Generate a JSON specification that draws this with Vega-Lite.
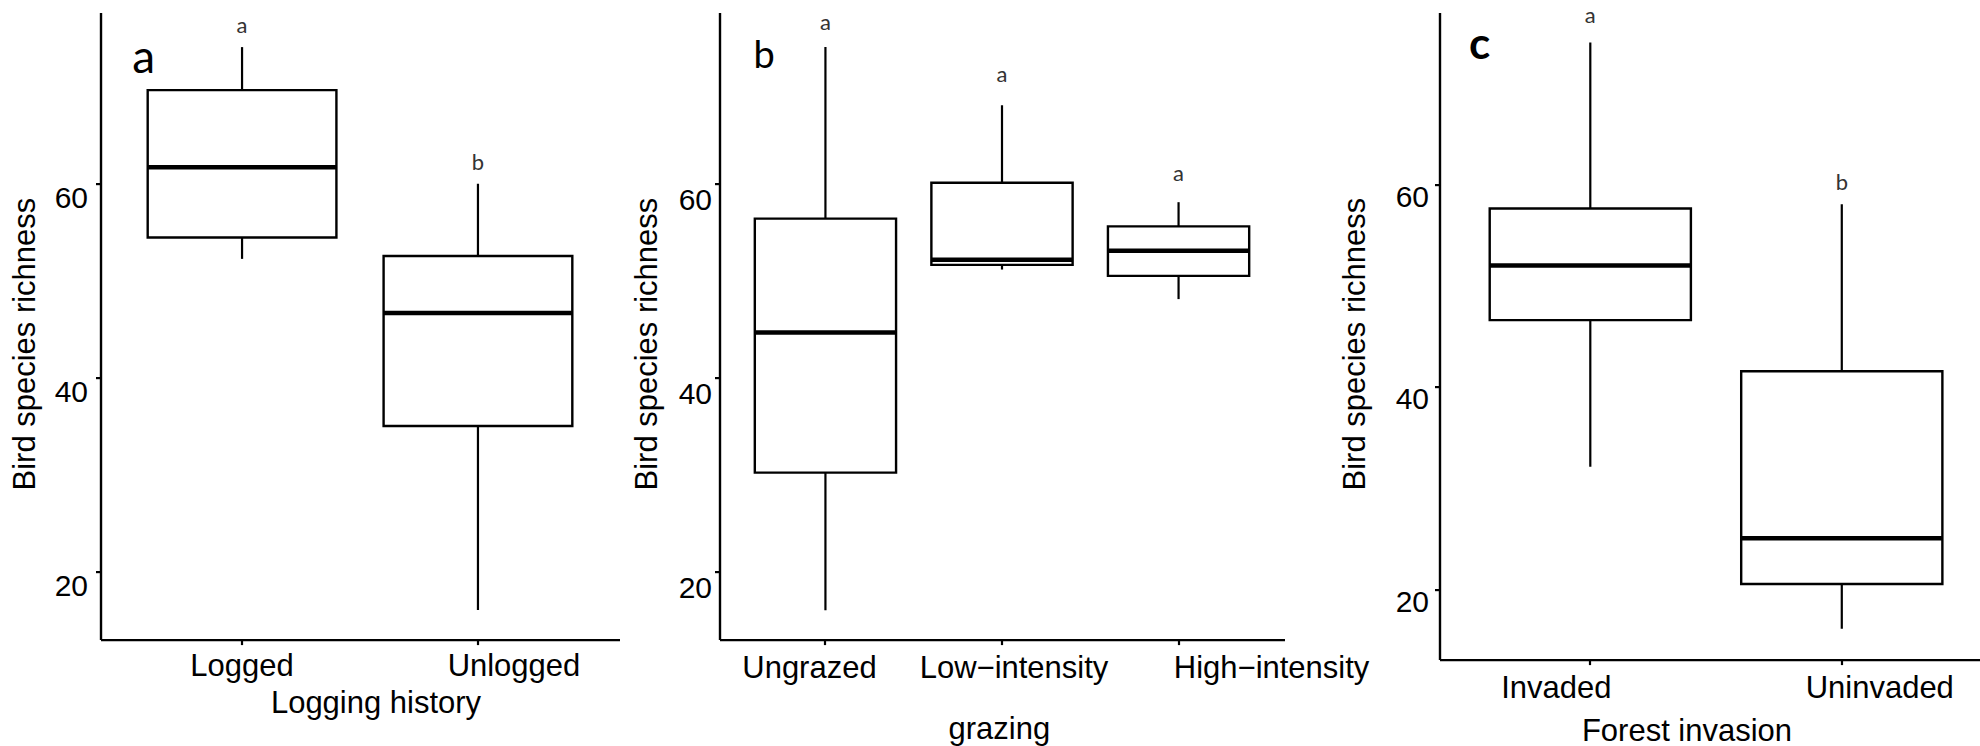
{
  "$schema": "https://vega.github.io/schema/vega-lite/v6.json",
  "autosize": {"type": "pad"},
  "padding": {"left": 9.5, "top": 4.6, "right": 0, "bottom": 0},
  "background": "white",
  "bounds": "flush",
  "spacing": 100,
  "datasets": {
    "logging": [
      {"group": "Logged", "lower": 52.25, "q1": 54.46, "median": 61.7, "q3": 69.66, "upper": 74.1, "sig": "a", "sig_y": 76.3},
      {"group": "Unlogged", "lower": 16.03, "q1": 35.0, "median": 46.67, "q3": 52.55, "upper": 60.0, "sig": "b", "sig_y": 62.1}
    ],
    "grazing": [
      {"group": "Ungrazed", "lower": 16.0, "q1": 30.2, "median": 44.66, "q3": 56.4, "upper": 74.1, "sig": "a", "sig_y": 76.55},
      {"group": "Low\u2212intensity", "lower": 51.15, "q1": 51.63, "median": 52.15, "q3": 60.1, "upper": 68.1, "sig": "a", "sig_y": 71.2},
      {"group": "High\u2212intensity", "lower": 48.1, "q1": 50.5, "median": 53.1, "q3": 55.6, "upper": 58.1, "sig": "a", "sig_y": 61.0}
    ],
    "invasion": [
      {"group": "Invaded", "lower": 32.1, "q1": 46.6, "median": 52.0, "q3": 57.65, "upper": 74.07, "sig": "a", "sig_y": 76.66},
      {"group": "Uninvaded", "lower": 16.07, "q1": 20.5, "median": 25.04, "q3": 41.55, "upper": 58.07, "sig": "b", "sig_y": 60.2}
    ]
  },
  "hconcat": [
    {
      "width": 519,
      "height": 627,
      "data": {"name": "logging"},
      "encoding": {
        "x": {
          "field": "group", "type": "nominal",
          "scale": {"domain": ["Logged", "Unlogged"], "paddingInner": 0.2, "paddingOuter": 0.2, "round": false},
          "axis": {
            "title": "Logging history", "labelAngle": 0, "labelBaseline": "alphabetic", "labelPadding": 31, "labelLimit": 0,
            "labelOffset": {"condition": {"test": "datum.value === 'Unlogged'", "value": 36}, "value": 0},
            "titleX": 275, "titleY": 73, "titleBaseline": "alphabetic", "titleAlign": "center"
          }
        }
      },
      "layer": [
        {
          "mark": {"type": "rule", "color": "black", "strokeWidth": 2.2},
          "encoding": {
            "y": {"field": "lower", "type": "quantitative", "scale": {"domain": [12.97, 77.66], "nice": false, "zero": false},
              "axis": {"title": "Bird species richness", "values": [20, 40, 60], "labelOffset": 15, "labelPadding": 8, "labelBaseline": "middle", "titleX": -75, "titleY": 331, "titleBaseline": "middle", "titleAngle": 270}},
            "y2": {"field": "upper"}
          }
        },
        {
          "mark": {"type": "bar", "fill": "white", "stroke": "black", "strokeWidth": 2.4},
          "encoding": {
            "y": {"field": "q1", "type": "quantitative", "scale": {"domain": [12.97, 77.66], "nice": false, "zero": false},
              "axis": {"title": "Bird species richness", "values": [20, 40, 60], "labelOffset": 15, "labelPadding": 8, "labelBaseline": "middle", "titleX": -75, "titleY": 331, "titleBaseline": "middle", "titleAngle": 270}},
            "y2": {"field": "q3"}
          }
        },
        {
          "mark": {"type": "tick", "color": "black", "opacity": 1, "thickness": 4.5, "size": 188.7, "orient": "horizontal"},
          "encoding": {
            "y": {"field": "median", "type": "quantitative", "scale": {"domain": [12.97, 77.66], "nice": false, "zero": false},
              "axis": {"title": "Bird species richness", "values": [20, 40, 60], "labelOffset": 15, "labelPadding": 8, "labelBaseline": "middle", "titleX": -75, "titleY": 331, "titleBaseline": "middle", "titleAngle": 270}}
          }
        },
        {
          "mark": {"type": "text", "font": "Lato", "fontSize": 22, "color": "#333333", "baseline": "middle"},
          "encoding": {
            "y": {"field": "sig_y", "type": "quantitative", "scale": {"domain": [12.97, 77.66], "nice": false, "zero": false},
              "axis": {"title": "Bird species richness", "values": [20, 40, 60], "labelOffset": 15, "labelPadding": 8, "labelBaseline": "middle", "titleX": -75, "titleY": 331, "titleBaseline": "middle", "titleAngle": 270}},
            "text": {"field": "sig"}
          }
        },
        {
          "data": {"values": [{"group": "Logged", "panel": "a", "py": 71.42}]},
          "mark": {"type": "text", "font": "Lato", "fontSize": 46, "color": "black", "baseline": "alphabetic", "align": "center", "dx": -98.5},
          "encoding": {
            "y": {"field": "py", "type": "quantitative", "scale": {"domain": [12.97, 77.66], "nice": false, "zero": false},
              "axis": {"title": "Bird species richness", "values": [20, 40, 60], "labelOffset": 15, "labelPadding": 8, "labelBaseline": "middle", "titleX": -75, "titleY": 331, "titleBaseline": "middle", "titleAngle": 270}},
            "text": {"field": "panel"}
          }
        }
      ]
    },
    {
      "width": 565,
      "height": 627,
      "data": {"name": "grazing"},
      "encoding": {
        "x": {
          "field": "group", "type": "nominal",
          "scale": {"domain": ["Ungrazed", "Low\u2212intensity", "High\u2212intensity"], "paddingInner": 0.2, "paddingOuter": 0.2, "round": false},
          "axis": {
            "title": "grazing", "labelAngle": 0, "labelBaseline": "alphabetic", "labelPadding": 33, "labelLimit": 0,
            "labelOffset": {"condition": [{"test": "datum.value === 'Ungrazed'", "value": -16}, {"test": "datum.value === 'Low\u2212intensity'", "value": 12}], "value": 93},
            "titleX": 279.3, "titleY": 99.3, "titleBaseline": "alphabetic", "titleAlign": "center"
          }
        }
      },
      "layer": [
        {
          "mark": {"type": "rule", "color": "black", "strokeWidth": 2.2},
          "encoding": {
            "y": {"field": "lower", "type": "quantitative", "scale": {"domain": [12.97, 77.66], "nice": false, "zero": false},
              "axis": {"title": "Bird species richness", "values": [20, 40, 60], "labelOffset": 17, "labelPadding": 3, "labelBaseline": "middle", "titleX": -72.4, "titleY": 331, "titleBaseline": "middle", "titleAngle": 270}},
            "y2": {"field": "upper"}
          }
        },
        {
          "mark": {"type": "bar", "fill": "white", "stroke": "black", "strokeWidth": 2.4},
          "encoding": {
            "y": {"field": "q1", "type": "quantitative", "scale": {"domain": [12.97, 77.66], "nice": false, "zero": false},
              "axis": {"title": "Bird species richness", "values": [20, 40, 60], "labelOffset": 17, "labelPadding": 3, "labelBaseline": "middle", "titleX": -72.4, "titleY": 331, "titleBaseline": "middle", "titleAngle": 270}},
            "y2": {"field": "q3"}
          }
        },
        {
          "mark": {"type": "tick", "color": "black", "opacity": 1, "thickness": 4.5, "size": 141.25, "orient": "horizontal"},
          "encoding": {
            "y": {"field": "median", "type": "quantitative", "scale": {"domain": [12.97, 77.66], "nice": false, "zero": false},
              "axis": {"title": "Bird species richness", "values": [20, 40, 60], "labelOffset": 17, "labelPadding": 3, "labelBaseline": "middle", "titleX": -72.4, "titleY": 331, "titleBaseline": "middle", "titleAngle": 270}}
          }
        },
        {
          "mark": {"type": "text", "font": "Lato", "fontSize": 22, "color": "#333333", "baseline": "middle"},
          "encoding": {
            "y": {"field": "sig_y", "type": "quantitative", "scale": {"domain": [12.97, 77.66], "nice": false, "zero": false},
              "axis": {"title": "Bird species richness", "values": [20, 40, 60], "labelOffset": 17, "labelPadding": 3, "labelBaseline": "middle", "titleX": -72.4, "titleY": 331, "titleBaseline": "middle", "titleAngle": 270}},
            "text": {"field": "sig"}
          }
        },
        {
          "data": {"values": [{"group": "Ungrazed", "panel": "b", "py": 71.9}]},
          "mark": {"type": "text", "font": "Lato", "fontSize": 38, "color": "black", "baseline": "alphabetic", "align": "center", "dx": -61.3},
          "encoding": {
            "y": {"field": "py", "type": "quantitative", "scale": {"domain": [12.97, 77.66], "nice": false, "zero": false},
              "axis": {"title": "Bird species richness", "values": [20, 40, 60], "labelOffset": 17, "labelPadding": 3, "labelBaseline": "middle", "titleX": -72.4, "titleY": 331, "titleBaseline": "middle", "titleAngle": 270}},
            "text": {"field": "panel"}
          }
        }
      ]
    },
    {
      "width": 596,
      "height": 647,
      "data": {"name": "invasion"},
      "encoding": {
        "x": {
          "field": "group", "type": "nominal",
          "scale": {"domain": ["Invaded", "Uninvaded"], "range": [55, 596], "paddingInner": 0.2, "paddingOuter": 0.1756, "align": 0.5685, "round": false},
          "axis": {
            "title": "Forest invasion", "labelAngle": 0, "labelBaseline": "alphabetic", "labelPadding": 33, "labelLimit": 0,
            "labelOffset": {"condition": {"test": "datum.value === 'Invaded'", "value": -34}, "value": 38},
            "titleX": 302, "titleY": 81, "titleBaseline": "alphabetic", "titleAlign": "center"
          }
        }
      },
      "layer": [
        {
          "mark": {"type": "rule", "color": "black", "strokeWidth": 2.2},
          "encoding": {
            "y": {"field": "lower", "type": "quantitative", "scale": {"domain": [13.03, 77.02], "nice": false, "zero": false},
              "axis": {"title": "Bird species richness", "values": [20, 40, 60], "offset": -55, "labelOffset": 13, "labelPadding": 6, "labelBaseline": "middle", "titleX": -83.6, "titleY": 331, "titleBaseline": "middle", "titleAngle": 270}},
            "y2": {"field": "upper"}
          }
        },
        {
          "mark": {"type": "bar", "fill": "white", "stroke": "black", "strokeWidth": 2.4},
          "encoding": {
            "y": {"field": "q1", "type": "quantitative", "scale": {"domain": [13.03, 77.02], "nice": false, "zero": false},
              "axis": {"title": "Bird species richness", "values": [20, 40, 60], "offset": -55, "labelOffset": 13, "labelPadding": 6, "labelBaseline": "middle", "titleX": -83.6, "titleY": 331, "titleBaseline": "middle", "titleAngle": 270}},
            "y2": {"field": "q3"}
          }
        },
        {
          "mark": {"type": "tick", "color": "black", "opacity": 1, "thickness": 4.5, "size": 201.2, "orient": "horizontal"},
          "encoding": {
            "y": {"field": "median", "type": "quantitative", "scale": {"domain": [13.03, 77.02], "nice": false, "zero": false},
              "axis": {"title": "Bird species richness", "values": [20, 40, 60], "offset": -55, "labelOffset": 13, "labelPadding": 6, "labelBaseline": "middle", "titleX": -83.6, "titleY": 331, "titleBaseline": "middle", "titleAngle": 270}}
          }
        },
        {
          "mark": {"type": "text", "font": "Lato", "fontSize": 22, "color": "#333333", "baseline": "middle"},
          "encoding": {
            "y": {"field": "sig_y", "type": "quantitative", "scale": {"domain": [13.03, 77.02], "nice": false, "zero": false},
              "axis": {"title": "Bird species richness", "values": [20, 40, 60], "offset": -55, "labelOffset": 13, "labelPadding": 6, "labelBaseline": "middle", "titleX": -83.6, "titleY": 331, "titleBaseline": "middle", "titleAngle": 270}},
            "text": {"field": "sig"}
          }
        },
        {
          "data": {"values": [{"group": "Invaded", "panel": "c", "py": 72.44}]},
          "mark": {"type": "text", "font": "Lato", "fontSize": 44, "fontWeight": "bold", "color": "black", "baseline": "alphabetic", "align": "center", "dx": -110.7},
          "encoding": {
            "y": {"field": "py", "type": "quantitative", "scale": {"domain": [13.03, 77.02], "nice": false, "zero": false},
              "axis": {"title": "Bird species richness", "values": [20, 40, 60], "offset": -55, "labelOffset": 13, "labelPadding": 6, "labelBaseline": "middle", "titleX": -83.6, "titleY": 331, "titleBaseline": "middle", "titleAngle": 270}},
            "text": {"field": "panel"}
          }
        }
      ]
    }
  ],
  "config": {
    "view": {"stroke": null},
    "axis": {
      "domainColor": "black", "domainWidth": 2.4, "tickColor": "black", "tickWidth": 2.2, "tickSize": 5,
      "labelColor": "black", "titleColor": "black", "labelFont": "Liberation Sans", "titleFont": "Liberation Sans",
      "titleFontWeight": "normal", "grid": false, "labelFontSize": 31, "titleFontSize": 31
    },
    "axisY": {"labelFontSize": 30}
  }
}
